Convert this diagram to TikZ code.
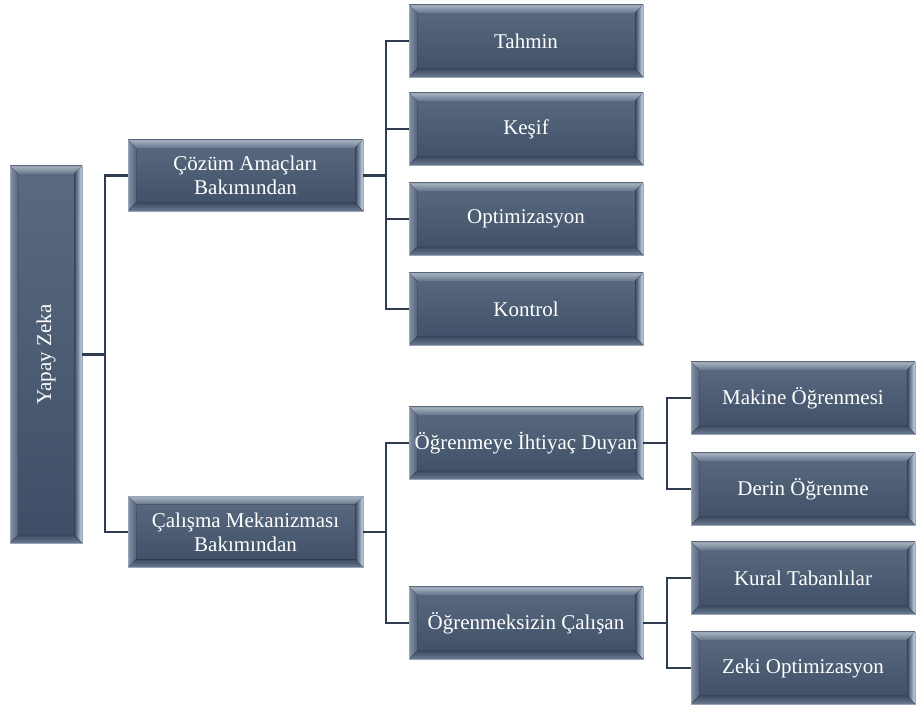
\documentclass[tikz,border=0pt]{standalone}
\usepackage{fontspec}
\setmainfont{Liberation Serif}
\usepackage{graphicx}
\definecolor{basetop}{HTML}{5A6A80}
\definecolor{basebot}{HTML}{3E4E66}
\definecolor{bevtopA}{HTML}{A9B4C2}
\definecolor{bevtopB}{HTML}{64748A}
\definecolor{bevleftA}{HTML}{8593A6}
\definecolor{bevleftB}{HTML}{53637A}
\definecolor{bevrightA}{HTML}{34435A}
\definecolor{bevrightB}{HTML}{C9D8EA}
\definecolor{bevbotA}{HTML}{3C4C63}
\definecolor{bevbotB}{HTML}{6A7A90}
\definecolor{edge}{HTML}{9AA6B5}
\definecolor{conn}{HTML}{2E3C52}
\tikzset{
  bevbox/.style args={#1/#2}{rectangle, minimum width=#1pt, minimum height=#2pt,
    inner sep=0pt, top color=basetop, bottom color=basebot, draw=edge, line width=0.5pt,
    text=white, font=\fontsize{21}{24}\selectfont, align=center,
    path picture={
      \coordinate (NW) at (path picture bounding box.north west);
      \coordinate (NE) at (path picture bounding box.north east);
      \coordinate (SW) at (path picture bounding box.south west);
      \coordinate (SE) at (path picture bounding box.south east);
      \fill[top color=bevtopA, bottom color=bevtopB]
        (NW) -- (NE) -- ([xshift=-8pt,yshift=-8pt]NE) -- ([xshift=8pt,yshift=-8pt]NW) -- cycle;
      \fill[left color=bevleftA, right color=bevleftB]
        (NW) -- ([xshift=8pt,yshift=-8pt]NW) -- ([xshift=8pt,yshift=8pt]SW) -- (SW) -- cycle;
      \fill[left color=bevrightA, right color=bevrightB]
        (NE) -- (SE) -- ([xshift=-8pt,yshift=8pt]SE) -- ([xshift=-8pt,yshift=-8pt]NE) -- cycle;
      \fill[top color=bevbotA, bottom color=bevbotB]
        (SW) -- (SE) -- ([xshift=-8pt,yshift=8pt]SE) -- ([xshift=8pt,yshift=8pt]SW) -- cycle;
    }},
  connector/.style={draw=conn, line width=2.4pt}
}
\begin{document}
\begin{tikzpicture}[x=1pt,y=1pt]
\useasboundingbox (0,0) rectangle (916,707);
% junction columns
\coordinate (j1) at (105,0);
\coordinate (j2) at (386,0);
\coordinate (j3) at (667,0);
% nodes
\node[bevbox=72/377] (root) at (46,352.5) {\rotatebox{90}{Yapay Zeka}};
\node[bevbox=235/71] (l1a) at (245.5,531.5) {Çözüm Amaçları\\Bakımından};
\node[bevbox=235/71] (l1b) at (245.5,175) {Çalışma Mekanizması\\Bakımından};
\node[bevbox=234/72] (tahmin) at (526,666) {Tahmin};
\node[bevbox=234/72] (kesif) at (526,578) {Keşif};
\node[bevbox=234/72] (opt) at (526,488) {Optimizasyon};
\node[bevbox=234/72] (kontrol) at (526,398) {Kontrol};
\node[bevbox=234/72] (ogr) at (526,264) {Öğrenmeye İhtiyaç Duyan};
\node[bevbox=234/72] (ogrs) at (526,84) {Öğrenmeksizin Çalışan};
\node[bevbox=224/72] (makine) at (803,309) {Makine Öğrenmesi};
\node[bevbox=224/72] (derin) at (803,218) {Derin Öğrenme};
\node[bevbox=224/72] (kural) at (803,129) {Kural Tabanlılar};
\node[bevbox=224/72] (zeki) at (803,39) {Zeki Optimizasyon};
% connectors
\draw[connector] (root.east) -- (root.east -| j1) |- (l1a.west);
\draw[connector] (root.east -| j1) |- (l1b.west);
\draw[connector] (l1a.east) -- (l1a.east -| j2) |- (tahmin.west);
\draw[connector] (l1a.east -| j2) |- (kesif.west);
\draw[connector] (l1a.east -| j2) |- (opt.west);
\draw[connector] (l1a.east -| j2) |- (kontrol.west);
\draw[connector] (l1b.east) -- (l1b.east -| j2) |- (ogr.west);
\draw[connector] (l1b.east -| j2) |- (ogrs.west);
\draw[connector] (ogr.east) -- (ogr.east -| j3) |- (makine.west);
\draw[connector] (ogr.east -| j3) |- (derin.west);
\draw[connector] (ogrs.east) -- (ogrs.east -| j3) |- (kural.west);
\draw[connector] (ogrs.east -| j3) |- (zeki.west);
\end{tikzpicture}
\end{document}
